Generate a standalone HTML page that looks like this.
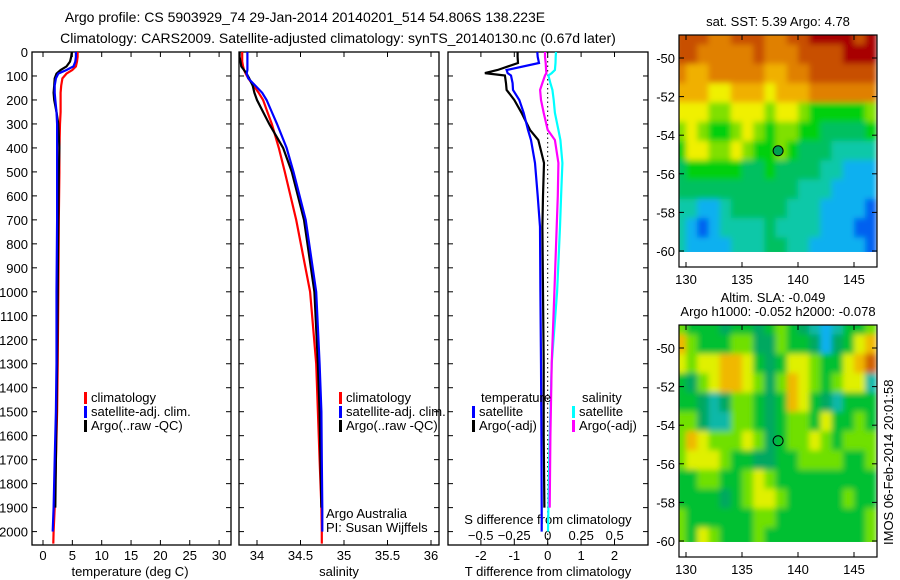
<!DOCTYPE html>
<html><head><meta charset="utf-8"><style>
body{margin:0;background:#fff;width:900px;height:580px;overflow:hidden}
svg{display:block;font-family:"Liberation Sans",sans-serif}
</style></head><body>
<svg id="c" width="900" height="580">
<defs>
<filter id="blur" x="0" y="0" width="1" height="1"><feGaussianBlur stdDeviation="3" edgeMode="duplicate"/></filter>
<clipPath id="clip1"><rect x="679" y="35" width="198" height="217"/></clipPath>
<clipPath id="clip2"><rect x="679" y="325" width="198" height="217"/></clipPath>
</defs>
<text x="305" y="22" font-size="14" text-anchor="middle">Argo profile: CS 5903929_74 29-Jan-2014 20140201_514 54.806S 138.223E</text>
<text x="338" y="43" font-size="14" text-anchor="middle">Climatology: CARS2009. Satellite-adjusted climatology: synTS_20140130.nc (0.67d later)</text>
</svg>
<script>
const depths=[0,20,40,60,75,90,110,140,170,200,250,300,400,500,700,1000,1300,1500,1700,1900,2000,2050];
const climT=[5.9,5.9,5.8,5.6,5.0,4.0,3.3,3.1,3.0,3.0,3.0,2.9,2.8,2.8,2.7,2.6,2.5,2.4,2.2,2.0,1.8,1.75];
const satT=[5.6,5.6,5.5,5.2,4.0,2.6,2.2,2.0,2.0,2.1,2.3,2.4,2.4,2.4,2.4,2.3,2.3,2.2,2.0,1.8,1.65,null];
const argoT=[4.9,4.8,4.6,4.0,3.0,2.3,2.0,1.9,1.8,1.9,2.3,2.6,2.8,2.7,2.6,2.5,2.4,2.3,2.2,2.1,null,null];
const climS=[33.83,33.83,33.83,33.84,33.85,33.87,33.90,33.96,34.02,34.07,34.12,34.17,34.25,34.32,34.45,34.61,34.68,34.70,34.72,34.74,34.745,34.745];
const satS=[33.89,33.89,33.89,33.89,33.89,33.88,33.90,33.98,34.06,34.11,34.17,34.23,34.34,34.42,34.56,34.68,34.72,34.74,34.745,34.75,34.75,null];
const argoS=[33.80,33.80,33.81,33.82,33.85,33.88,33.91,33.95,33.97,34.0,34.07,34.14,34.30,34.40,34.54,34.66,34.70,34.72,34.73,34.74,null,null];
const dDepths=[0,20,46,75,88,98,130,158,200,254,325,367,463,600,729,1000,1300,1600,1900,2000];
const satTd=[-0.31,-0.30,-0.26,-1.23,-1.2,-1.1,-1.05,-1.04,-0.85,-0.72,-0.59,-0.5,-0.38,-0.3,-0.23,-0.22,-0.2,-0.19,-0.18,-0.18];
const argoTd=[-0.9,-0.9,-0.89,-1.5,-1.88,-1.28,-1.25,-1.23,-1.0,-0.78,-0.53,-0.28,-0.11,-0.14,-0.16,-0.14,-0.12,-0.12,-0.1,null];
const argoSd=[-0.02,-0.02,-0.015,-0.012,-0.01,-0.02,-0.04,-0.057,-0.05,-0.03,0.0,0.054,0.08,0.075,0.067,0.05,0.03,0.02,0.015,null];
const satSd=[0.062,0.06,0.058,0.054,0.03,0.005,0.02,0.035,0.045,0.054,0.08,0.095,0.11,0.1,0.092,0.07,0.03,0.015,0.005,0.002];
const depthTicks=[0,100,200,300,400,500,600,700,800,900,1000,1100,1200,1300,1400,1500,1600,1700,1800,1900,2000];
const tTicks=[0,5,10,15,20,25,30];
const sTicks=[34,34.5,35,35.5,36];
const dTTicks=[-2,-1,0,1,2];
const dSTicks=[-0.5,-0.25,0,0.25,0.5];
const sstCols=['#0010a0','#0060f0','#10b0f0','#10c8a8','#00c060','#00d010','#80e000','#f0f000','#f0b000','#e08000','#c85000','#a80000'];
const sst=[
[10,10,10,9,9,10,10,10,9,9,10,10,11,11,11,11,10,11],
[10,10,9,9,9,9,9,10,9,9,9,10,10,10,10,11,11,11],
[9,8,8,9,9,9,9,9,8,8,9,9,10,10,10,10,10,10],
[8,8,8,7,7,8,8,8,7,8,8,8,9,9,9,9,9,9],
[7,7,7,6,6,7,7,7,6,7,7,6,5,5,5,5,5,6],
[6,7,6,5,5,6,7,6,5,6,6,5,5,4,4,4,4,5],
[5,7,7,6,6,7,6,5,5,6,5,4,4,4,3,3,3,3],
[4,5,5,5,5,5,4,4,5,4,4,4,4,3,3,2,2,2],
[4,4,4,4,4,4,4,4,4,4,4,3,3,3,2,2,2,2],
[3,3,2,2,3,4,4,4,4,4,3,3,3,2,2,2,2,1],
[3,2,1,2,3,3,3,3,4,3,3,3,3,2,2,2,1,1],
[3,2,2,2,2,3,3,3,4,4,3,3,2,2,2,2,2,1]];
const slaCols=['#10b0f0','#10b8a8','#00a860','#00c030','#70e000','#e0f000','#f0b800','#d06000'];
const sla=[
[4,3,3,3,2,3,3,2,3,4,3,2,1,0,1,3,3,4],
[6,4,3,3,3,4,4,2,2,4,3,3,2,0,2,3,5,6],
[5,4,5,5,6,6,5,3,2,3,5,5,4,3,3,5,6,7],
[3,2,4,5,6,6,5,4,2,4,6,5,4,3,4,5,5,1],
[3,3,2,1,2,4,4,3,2,3,6,5,3,2,1,3,3,3],
[4,4,2,1,1,4,4,3,2,3,4,4,3,5,3,3,4,3],
[4,6,5,4,4,4,5,4,2,3,4,4,5,4,3,4,4,4],
[4,5,5,5,4,3,3,2,2,3,3,4,4,4,4,3,3,4],
[3,3,4,4,3,3,4,5,4,3,3,3,3,3,3,3,3,3],
[3,3,3,3,2,3,4,5,5,4,3,3,3,3,3,4,3,3],
[4,3,3,3,3,3,3,4,4,3,3,3,3,3,3,3,3,4],
[4,3,5,4,3,3,3,4,3,3,3,3,3,3,3,3,3,4]];
const argoLon=138.223, argoLat=-54.806;
const lonTicks=[130,135,140,145];
const latTicks=[-50,-52,-54,-56,-58,-60];

const svg=document.getElementById('c');
const NS='http://www.w3.org/2000/svg';
function el(t,a,txt,p){const e=document.createElementNS(NS,t);for(const k in a)e.setAttribute(k,a[k]);if(txt!=null)e.textContent=txt;(p||svg).appendChild(e);return e;}
const TOP=52,BOT=545;
const yD=d=>TOP+d*0.2398;
function line(xs,ys,sc,color,name,w){let pts=[];for(let i=0;i<xs.length;i++){if(xs[i]==null)continue;pts.push(sc(xs[i]).toFixed(1)+','+yD(ys[i]).toFixed(1));}
 const e=el('polyline',{points:pts.join(' '),fill:'none',stroke:color,'stroke-width':w||2.2});
 
 }
function frame(x0,x1,name){const r=el('rect',{x:x0,y:TOP,width:x1-x0,height:BOT-TOP,fill:'none',stroke:'#000','stroke-width':1.3});
 
 }
function depthTicksFor(x0,x1,labels){depthTicks.forEach(d=>{const y=yD(d);el('line',{x1:x0,y1:y,x2:x0+5,y2:y,stroke:'#000'});el('line',{x1:x1,y1:y,x2:x1-5,y2:y,stroke:'#000'});
 if(labels){const t=el('text',{x:28,y:y+5,'font-size':13,'text-anchor':'end'},String(d));}});}
function xTicks(ticks,sc,yLab,fmt,top){ticks.forEach(v=>{const x=sc(v);el('line',{x1:x,y1:BOT,x2:x,y2:BOT-5,stroke:'#000'});if(top)el('line',{x1:x,y1:TOP,x2:x,y2:TOP+5,stroke:'#000'});
 const t=el('text',{x:x,y:yLab,'font-size':13,'text-anchor':'middle'},fmt?fmt(v):String(v));});}
function legend(x,y,color,label){el('rect',{x:x,y:y-10,width:3,height:12,fill:color});const t=el('text',{x:x+7,y:y,'font-size':13},label);}

// Panel 1 temperature
const sxT=v=>43+v*5.87;
frame(32,231,'temperature-axes');depthTicksFor(32,231,true);xTicks(tTicks,sxT,560,null,true);
line(climT,depths,sxT,'#f00','climatology-temperature-line');
line(argoT,depths,sxT,'#000','argo-temperature-line');
line(satT,depths,sxT,'#00f','satellite-temperature-line');
legend(84,402,'#f00','climatology');legend(84,416,'#00f','satellite-adj. clim.');legend(84,430,'#000','Argo(..raw -QC)');
el('text',{x:130,y:576,'font-size':13,'text-anchor':'middle'},'temperature (deg C)');

// Panel 2 salinity
const sxS=v=>257+(v-34)*87;
frame(239,439,'salinity-axes');depthTicksFor(239,439,false);xTicks(sTicks,sxS,560,null,true);
line(climS,depths,sxS,'#f00','climatology-salinity-line');
line(argoS,depths,sxS,'#000','argo-salinity-line');
line(satS,depths,sxS,'#00f','satellite-salinity-line');
legend(339,402,'#f00','climatology');legend(339,416,'#00f','satellite-adj. clim.');legend(339,430,'#000','Argo(..raw -QC)');
el('text',{x:326,y:518,'font-size':13},'Argo Australia');
el('text',{x:326,y:532,'font-size':13},'PI: Susan Wijffels');
el('text',{x:339,y:576,'font-size':13,'text-anchor':'middle'},'salinity');

// Panel 3 differences
const sxdT=v=>547.7+v*33.4, sxdS=v=>547.7+v*134;
frame(448,648,'difference-axes');depthTicksFor(448,648,false);xTicks(dTTicks,sxdT,560,null,true);
dSTicks.forEach(v=>{const t=el('text',{x:sxdS(v),y:540,'font-size':13,'text-anchor':'middle'},v===0?'0':String(v).replace('-','\u2212'));});
el('text',{x:548,y:524,'font-size':13,'text-anchor':'middle'},'S difference from climatology');
el('line',{x1:547.7,y1:TOP,x2:547.7,y2:BOT,stroke:'#000','stroke-dasharray':'1.5,3'});
line(satSd,dDepths,sxdS,'#0ff','satellite-salinity-diff-line');
line(argoSd,dDepths,sxdS,'#f0f','argo-salinity-diff-line');
line(argoTd,dDepths,sxdT,'#000','argo-temperature-diff-line');
line(satTd,dDepths,sxdT,'#00f','satellite-temperature-diff-line');
el('text',{x:481,y:402,'font-size':13},'temperature');el('text',{x:582,y:402,'font-size':13},'salinity');
legend(472,416,'#00f','satellite');legend(472,430,'#000','Argo(-adj)');legend(572,416,'#0ff','satellite');legend(572,430,'#f0f','Argo(-adj)');
el('text',{x:548,y:576,'font-size':13,'text-anchor':'middle'},'T difference from climatology');

// Maps
function map(y0,vals,cols,name,circFill,clip){
 const lonX=v=>686+(v-130)*11.2, latY=v=>y0+23+(-50-v)*19.3;
 const outer=el('g',{'clip-path':'url(#'+clip+')'});
 const g=el('g',{filter:'url(#blur)'},null,outer);
 
 
 vals.forEach((row,r)=>row.forEach((v,c)=>{const lon=129.5+c, lat=-48.8-r;
  const xa=lonX(lon-0.5), xb=lonX(lon+0.5)+0.5;
  const ya=latY(lat+0.5), yb=latY(lat-0.5)+0.5;
  const cell=el('rect',{x:xa,y:ya,width:xb-xa,height:yb-ya,fill:cols[v]},null,g);
  
  }));
 el('rect',{x:679,y:y0,width:198,height:232,fill:'none',stroke:'#000','stroke-width':1.2});
 lonTicks.forEach(v=>{const x=lonX(v);el('line',{x1:x,y1:y0+232,x2:x,y2:y0+227,stroke:'#000'});el('line',{x1:x,y1:y0,x2:x,y2:y0+5,stroke:'#000'});
  el('text',{x:x,y:y0+249,'font-size':13,'text-anchor':'middle'},String(v));});
 latTicks.forEach(v=>{const y=latY(v);el('line',{x1:679,y1:y,x2:684,y2:y,stroke:'#000'});el('line',{x1:877,y1:y,x2:872,y2:y,stroke:'#000'});
  el('text',{x:675,y:y+5,'font-size':13,'text-anchor':'end'},String(v));});
 const cc=el('circle',{cx:lonX(argoLon),cy:latY(argoLat),r:5,fill:circFill,stroke:'#000','stroke-width':1});
 
 
}
map(35,sst,sstCols,'sst-map','#00a050','clip1');
el('text',{x:778,y:26,'font-size':13,'text-anchor':'middle'},'sat. SST: 5.39 Argo: 4.78');
map(325,sla,slaCols,'sla-map','none','clip2');
el('text',{x:773,y:302,'font-size':13,'text-anchor':'middle'},'Altim. SLA: -0.049');
el('text',{x:778,y:316,'font-size':13,'text-anchor':'middle'},'Argo h1000: -0.052 h2000: -0.078');
el('text',{x:893,y:545,'font-size':13,transform:'rotate(-90 893 545)'},'IMOS 06-Feb-2014 20:01:58');
</script>
</body></html>
